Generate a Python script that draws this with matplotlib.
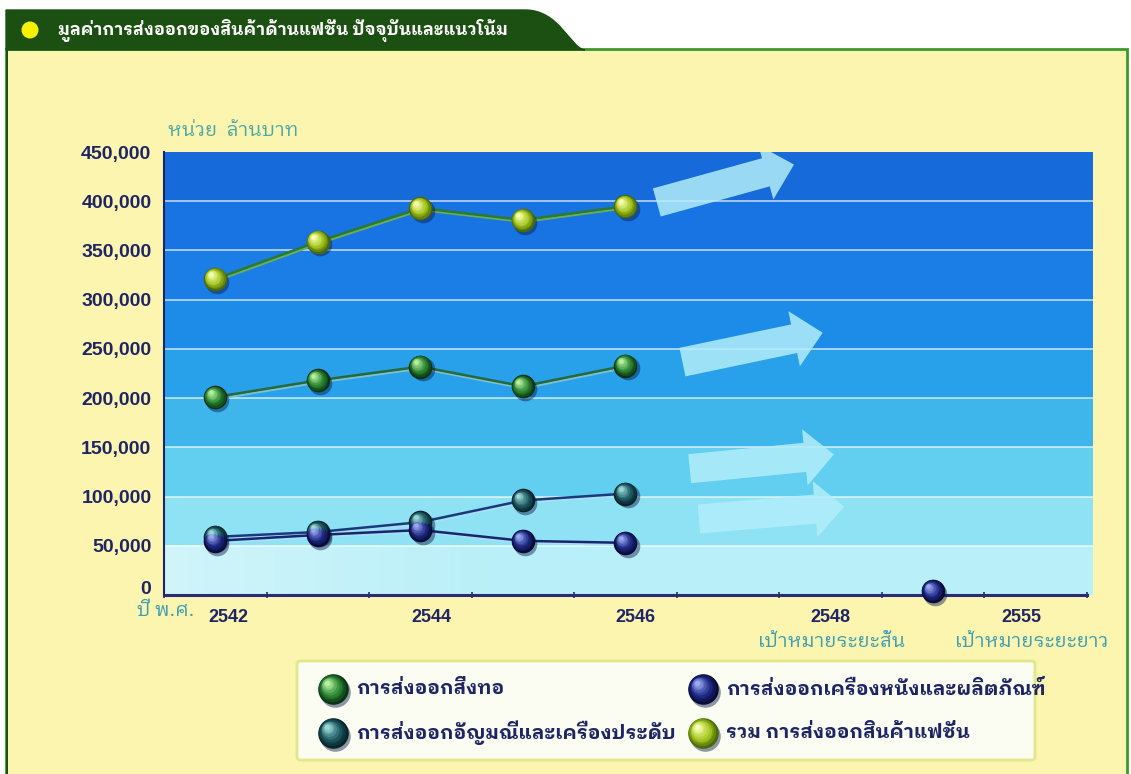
import numpy as np
import matplotlib
matplotlib.use("Agg")
import matplotlib.pyplot as plt
import matplotlib.font_manager as fm
from matplotlib.ft2font import FT2Font
from matplotlib.transforms import offset_copy, ScaledTranslation
from matplotlib.patches import FancyArrowPatch, Rectangle, PathPatch, Circle, FancyBboxPatch
from matplotlib.path import Path
import matplotlib.colors as mcolors

# ---------------- data ----------------
categories = ["2542", "2543", "2544", "2545", "2546", "", "2548", "", "2555"]
tick_labels = ["2542", "", "2544", "", "2546", "", "2548", "", "2555"]
total_fashion = [321000, 359000, 393000, 381000, 395000, None, None, None, None]
textiles = [201000, 218000, 232000, 212000, 233000, None, None, None, None]
jewelry = [59000, 64000, 74000, 96000, 103000, None, None, None, None]
leather = [55000, 61000, 66000, 55000, 53000, None, None, None, None]
leather_target = [None, None, None, None, None, None, None, 4000, None]

title = "มูลค่าการส่งออกของสินค้าด้านแฟชั่น ปัจจุบันและแนวโน้ม"
unit_label = "หน่วย  ล้านบาท"
year_label = "ปี พ.ศ."
short_goal = "เป้าหมายระยะสั้น"
long_goal = "เป้าหมายระยะยาว"
legend_names = ["การส่งออกสิ่งทอ", "การส่งออกอัญมณีและเครื่องประดับ",
                "การส่งออกเครื่องหนังและผลิตภัณฑ์", "รวม การส่งออกสินค้าแฟชั่น"]

# ---------------- fonts ----------------
def find_thai_font():
    cands = []
    for f in fm.fontManager.ttflist:
        try:
            cm = FT2Font(f.fname).get_charmap()
        except Exception:
            continue
        if 0x0E01 in cm and 0x0E48 in cm:
            score = 0
            if "Thai" in f.name: score += 2
            if f.weight in ("bold", 700) or "Bold" in f.fname: score += 1
            cands.append((score, f.name))
    if cands:
        cands.sort(reverse=True)
        return cands[0][1]
    return "DejaVu Sans"

THAI = find_thai_font()
TFAM = [THAI, "DejaVu Sans"]
NUMFONT = "Liberation Sans"

NAVY = "#1e2566"
TEAL = "#3c9eb4"

W, H = 1131, 774
fig = plt.figure(figsize=(W / 100, H / 100), dpi=100)
fig.patch.set_facecolor("white")

# ---------------- background panel (pixel coords) ----------------
bg = fig.add_axes([0, 0, 1, 1], zorder=0)
bg.set_xlim(0, W)
bg.set_ylim(H, 0)
bg.axis("off")
bg.add_patch(Rectangle((6, 49), 1121, 730, facecolor="#fbf5b0", edgecolor="#3a9a2a", lw=2))
bg.add_patch(Rectangle((6, 49), 2, 730, facecolor="#1c5012", edgecolor="none"))
tab = Path([(6, 50), (6, 10), (525, 10), (560, 10), (570, 48), (585, 50), (6, 50)],
           [Path.MOVETO, Path.LINETO, Path.LINETO, Path.CURVE4, Path.CURVE4, Path.CURVE4, Path.CLOSEPOLY])
bg.add_patch(PathPatch(tab, facecolor="#1c5012", edgecolor="#1c5012"))
bg.add_patch(Circle((30, 30), 8.5, facecolor="#f4f000", edgecolor="none"))
bg.text(58, 30, title, family=TFAM, fontsize=12.3, fontweight="bold", color="white",
        va="center", ha="left")
bg.text(168, 131, unit_label, family=TFAM, fontsize=14, color="#4aa8a6", va="center", ha="left")
bg.text(137, 611, year_label, family=TFAM, fontsize=14, color=TEAL, va="center", ha="left")
bg.text(832, 642, short_goal, family=TFAM, fontsize=14, color=TEAL, va="center", ha="center")
bg.text(1032, 642, long_goal, family=TFAM, fontsize=14, color=TEAL, va="center", ha="center")

# ---------------- main axes ----------------
ax = fig.add_axes([164 / W, 1 - 595 / H, (1093 - 164) / W, (595 - 152) / H], zorder=2)
n = len(categories)
x = np.arange(n)

band_colors = ["#b8eff8", "#8ee2f4", "#62cef0", "#3eb6ec", "#28a0ea",
               "#1c8ce8", "#1a7ee6", "#1874e2", "#166ad9"]
for i, c in enumerate(band_colors):
    ax.axhspan(i * 50000, (i + 1) * 50000, color=c, zorder=0, lw=0)
# soft light gradient bottom-left
grad = np.linspace(0, 1, 200)[None, :]
ax.imshow(np.dstack([np.ones((1, 200, 3)), (0.35 * (1 - grad))[..., None]]),
          extent=(-0.5, 3.0, 0, 50000), aspect="auto", zorder=0.5, interpolation="bilinear")
ax.set_xlim(-0.5, n - 0.5 + 0.06)
ax.set_ylim(0, 450000)
for yv in range(50000, 450000, 50000):
    ax.axhline(yv, color="white", alpha=0.65, lw=1.3, zorder=1)

# decorative trend arrows (data coords of tail / tip)
arrow_specs = [((4.28, 398000), (5.67, 438000)),
               ((4.53, 236000), (5.95, 267000)),
               ((4.60, 128000), (6.06, 143000)),
               ((4.69, 77000), (6.16, 90000))]
for a, b in arrow_specs:
    ax.add_patch(FancyArrowPatch(a, b, arrowstyle="simple,head_length=0.75,head_width=1.45,tail_width=0.75",
                                 mutation_scale=28, color="#b2edfa", alpha=0.85, lw=0, zorder=2))

def mix(c1, c2, t):
    a = np.array(mcolors.to_rgb(c1)); b = np.array(mcolors.to_rgb(c2))
    return tuple(a + (b - a) * t)

def sphere(axis, xs, ys, dark, base, light, size=17, zorder=6, transform=None):
    tr = transform if transform is not None else axis.transData
    sh = offset_copy(tr, fig=fig, x=1.6, y=-2.0, units="points")
    axis.plot(xs, ys, "o", ms=size, color="#0b1a46", alpha=0.45, mew=0, transform=sh,
              zorder=zorder, clip_on=False)
    steps = 9
    for i in range(steps):
        t = i / (steps - 1)
        s = size * (1 - 0.82 * t)
        if t < 0.4:
            col = mix(dark, base, t / 0.4)
        else:
            col = mix(base, light, (t - 0.4) / 0.6)
        off = offset_copy(tr, fig=fig, x=-size * 0.2 * t, y=size * 0.2 * t, units="points")
        axis.plot(xs, ys, "o", ms=s, color=col, mew=0, transform=off,
                  zorder=zorder + 0.01 * i, clip_on=False)

def arr(v):
    return np.array([np.nan if t is None else t for t in v], dtype=float)

series = [
    (total_fashion, "#2a7a34", "#6aae58", ("#4a6a08", "#a6c620", "#f6ffb0")),
    (textiles, "#256a3a", "#7ac0d0", ("#0a3414", "#2a8632", "#b6f0a0")),
    (jewelry, "#1a3a7e", "#a6e0f4", ("#08242a", "#1d5a62", "#9ad8d8")),
    (leather, "#1a2470", "#a6e0f4", ("#070b36", "#1e2a86", "#9aa8f0")),
]
for vals, lc, lc2, (dk, bs, lt) in series:
    yv = arr(vals)
    under = offset_copy(ax.transData, fig=fig, x=0.6, y=-1.4, units="points")
    ax.plot(x, yv, color=lc2, lw=1.6, transform=under, zorder=3)
    ax.plot(x, yv, color=lc, lw=1.8, zorder=3.5)
for vals, lc, lc2, (dk, bs, lt) in series:
    yv = arr(vals)
    m = ~np.isnan(yv)
    sphere(ax, x[m], yv[m], dk, bs, lt)
lt_y = arr(leather_target)
m = ~np.isnan(lt_y)
sphere(ax, x[m], lt_y[m], "#070b36", "#1e2a86", "#9aa8f0")

# axes styling
for s in ["top", "right"]:
    ax.spines[s].set_visible(False)
ax.spines["left"].set_color(NAVY)
ax.spines["left"].set_linewidth(1.5)
ax.spines["bottom"].set_color("#2a2c7a")
ax.spines["bottom"].set_linewidth(2.2)
ax.spines["bottom"].set_bounds(-0.5, n - 0.5)
ax.set_yticks(range(0, 450001, 50000))
ax.set_yticklabels([f"{v:,}" for v in range(0, 450001, 50000)],
                   fontsize=14, fontweight="bold", color=NAVY, family=NUMFONT)
ax.tick_params(axis="y", length=0, pad=9)
ytl = ax.get_yticklabels()
ytl[0].set_transform(ytl[0].get_transform() + ScaledTranslation(0, 8 / 100, fig.dpi_scale_trans))
ax.set_xticks(x)
ax.set_xticklabels(tick_labels, fontsize=13, fontweight="bold", color=NAVY, family=NUMFONT)
ax.tick_params(axis="x", which="major", length=0, pad=10)
label_shift_px = [13, 0, 11, 0, 10, 0, 0, 0, -14]
for lab, dx in zip(ax.get_xticklabels(), label_shift_px):
    lab.set_transform(lab.get_transform() + ScaledTranslation(dx / 100, 0, fig.dpi_scale_trans))
ax.set_xticks(np.arange(-0.5, n, 1.0), minor=True)
ax.tick_params(axis="x", which="minor", length=5, direction="inout", color="#2a2c7a", width=1.2)

# ---------------- legend ----------------
lg = fig.add_axes([0, 0, 1, 1], zorder=3)
lg.set_xlim(0, W)
lg.set_ylim(H, 0)
lg.axis("off")
lg.add_patch(FancyBboxPatch((297, 661), 738, 99, boxstyle="round,pad=0,rounding_size=3",
                            facecolor="#fbfcf2", edgecolor="#dfe88a", lw=2))
legend_pos = [(333, 689), (333, 733), (703, 689), (703, 733)]
legend_cols = [("#0a3414", "#2a8632", "#b6f0a0"), ("#08242a", "#1d5a62", "#9ad8d8"),
               ("#070b36", "#1e2a86", "#9aa8f0"), ("#4a6a08", "#a6c620", "#f6ffb0")]
for (px, py), name, (dk, bs, lt) in zip(legend_pos, legend_names, legend_cols):
    sphere(lg, [px], [py], dk, bs, lt, size=22, zorder=4, transform=lg.transData)
    lg.text(px + 23, py, name, family=TFAM, fontsize=14, fontweight="bold", color=NAVY,
            va="center", ha="left")

fig.savefig("out.png", dpi=100, facecolor=fig.get_facecolor())
